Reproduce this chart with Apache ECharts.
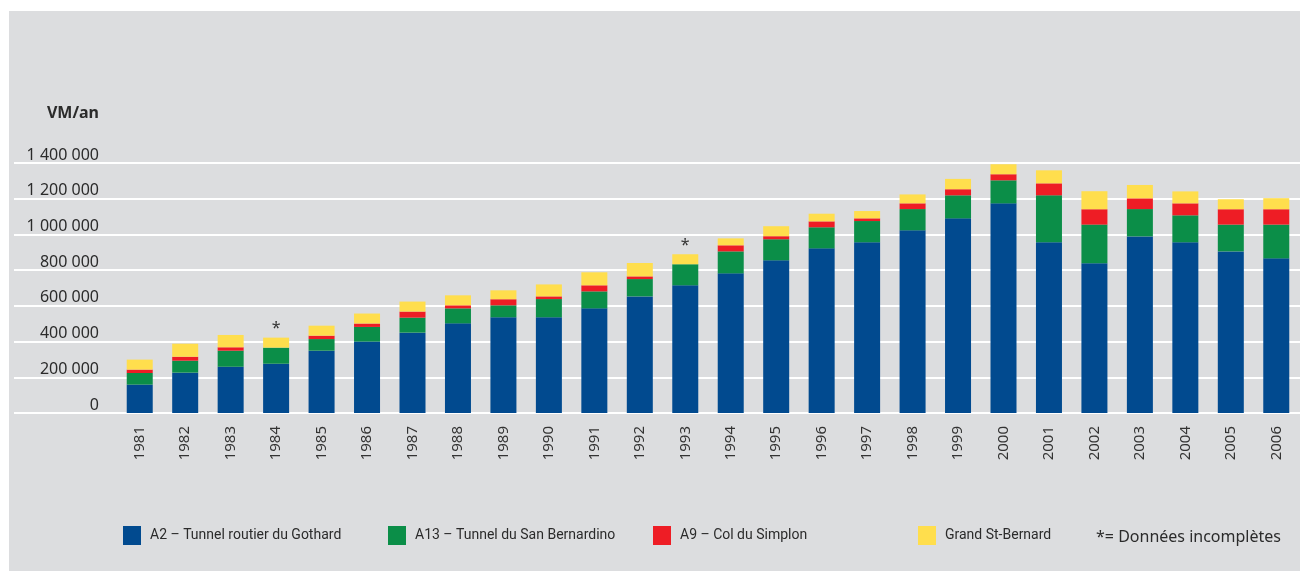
<!DOCTYPE html>
<html>
<head>
<meta charset="utf-8">
<script src="https://cdn.jsdelivr.net/npm/echarts@6/dist/echarts.min.js"></script>
<style>
  html, body { margin: 0; padding: 0; background: #ffffff; }
  #main { position: absolute; left: 9px; top: 11px; width: 1291px; height: 560px; }
</style>
</head>
<body>
<div id="main"></div>
<script>
// years and values (vehicules / year)
const years = ["1981", "1982", "1983", "1984", "1985", "1986", "1987", "1988", "1989", "1990",
  "1991", "1992", "1993", "1994", "1995", "1996", "1997", "1998", "1999", "2000",
  "2001", "2002", "2003", "2004", "2005", "2006"];
const gothard = [159000, 226000, 259000, 276000, 349000, 400000, 450000, 502000, 536000, 536000,
  586000, 653000, 715000, 782000, 855000, 922000, 956000, 1023000, 1090000, 1174000,
  956000, 838000, 989000, 956000, 905000, 866000];
const sanBernardino = [65000, 67000, 90000, 90000, 65000, 82000, 84000, 84000, 67000, 102000,
  95000, 97000, 118000, 123000, 118000, 118000, 119000, 119000, 129000, 129000,
  263000, 217000, 153000, 151000, 150000, 189000];
const simplon = [19000, 22000, 19000, 0, 19000, 19000, 34000, 17000, 34000, 15000,
  34000, 15000, 0, 34000, 17000, 33000, 15000, 32000, 34000, 34000,
  67000, 86000, 60000, 67000, 86000, 86000];
const stBernard = [56000, 73000, 69000, 56000, 56000, 56000, 56000, 56000, 50000, 67000,
  73000, 75000, 56000, 39000, 56000, 43000, 41000, 50000, 58000, 56000,
  73000, 101000, 75000, 67000, 56000, 62000];
// years with incomplete data
const incomplete = ["1984", "1993"];
const yTickLabels = ["0", "200 000", "400 000", "600 000", "800 000",
  "1 000 000", "1 200 000", "1 400 000"];

const colors = ["#014a8f", "#0b8e48", "#ee1d25", "#ffde4d"];
const names = ["A2 – Tunnel routier du Gothard", "A13 – Tunnel du San Bernardino",
  "A9 – Col du Simplon", "Grand St-Bernard"];

const font = "'Noto Sans', sans-serif";

function makeSeries(i, values) {
  return {
    name: names[i],
    type: "bar",
    stack: "total",
    xAxisIndex: 1,
    yAxisIndex: 1,
    barWidth: 26,
    itemStyle: { color: colors[i] },
    data: values
  };
}

const topSeries = makeSeries(3, stBernard.map((v, k) => {
  if (incomplete.indexOf(years[k]) >= 0) {
    return {
      value: v,
      label: {
        show: true, position: "top", distance: 1, formatter: "*",
        fontFamily: font, fontSize: 16, color: "#333333"
      }
    };
  }
  return v;
}));

// one legend per item so that they sit at even steps
const legends = names.map((n, i) => ({
  left: 114 + 265 * i,
  top: 515,
  padding: 0,
  icon: "rect",
  itemWidth: 18,
  itemHeight: 19,
  selectedMode: false,
  data: [n],
  textStyle: {
    fontFamily: "Roboto, 'Noto Sans', sans-serif",
    fontSize: 14,
    color: "#2b2b2b",
    padding: [0, 0, 0, 4]
  }
}));

let options = {
  backgroundColor: "#dcdddf",
  animation: false,
  title: {
    text: "*= Données incomplètes",
    left: 1087,
    top: 518,
    padding: 0,
    textStyle: { fontFamily: font, fontSize: 16, fontWeight: "normal", color: "#2b2b2b" }
  },
  legend: legends,
  grid: [
    { left: 5, right: 0, top: 152, bottom: 158 },
    { left: 108, right: 1, top: 152, bottom: 158 }
  ],
  xAxis: [
    { type: "category", gridIndex: 0, data: years, show: false },
    {
      type: "category",
      gridIndex: 1,
      data: years,
      axisLine: { show: false },
      axisTick: { show: false },
      axisLabel: {
        rotate: 90,
        margin: 13,
        fontFamily: font,
        fontSize: 15,
        color: "#333333"
      }
    }
  ],
  yAxis: [
    {
      type: "value",
      gridIndex: 0,
      min: 0,
      max: 1400000,
      interval: 200000,
      axisLine: { show: false },
      axisTick: { show: false },
      axisLabel: { show: false },
      splitLine: { show: true, lineStyle: { color: "#ffffff", width: 2 } }
    },
    {
      type: "value",
      gridIndex: 1,
      min: 0,
      max: 1400000,
      interval: 200000,
      name: "VM/an",
      nameLocation: "end",
      nameGap: 42,
      nameTextStyle: {
        fontFamily: font, fontSize: 16, fontWeight: "bold", color: "#2b2b2b",
        align: "right", padding: [0, 18, 0, 0]
      },
      axisLine: { show: false },
      axisTick: { show: false },
      splitLine: { show: false },
      axisLabel: {
        margin: 18,
        verticalAlign: "bottom",
        lineHeight: 16,
        fontFamily: font,
        fontSize: 16,
        color: "#2b2b2b",
        formatter: (v) => yTickLabels[Math.round(v / 200000)]
      }
    }
  ],
  series: [
    makeSeries(0, gothard),
    makeSeries(1, sanBernardino),
    makeSeries(2, simplon),
    topSeries
  ]
};

let myChart = echarts.init(document.getElementById("main"));
myChart.setOption(options);
</script>
</body>
</html>
